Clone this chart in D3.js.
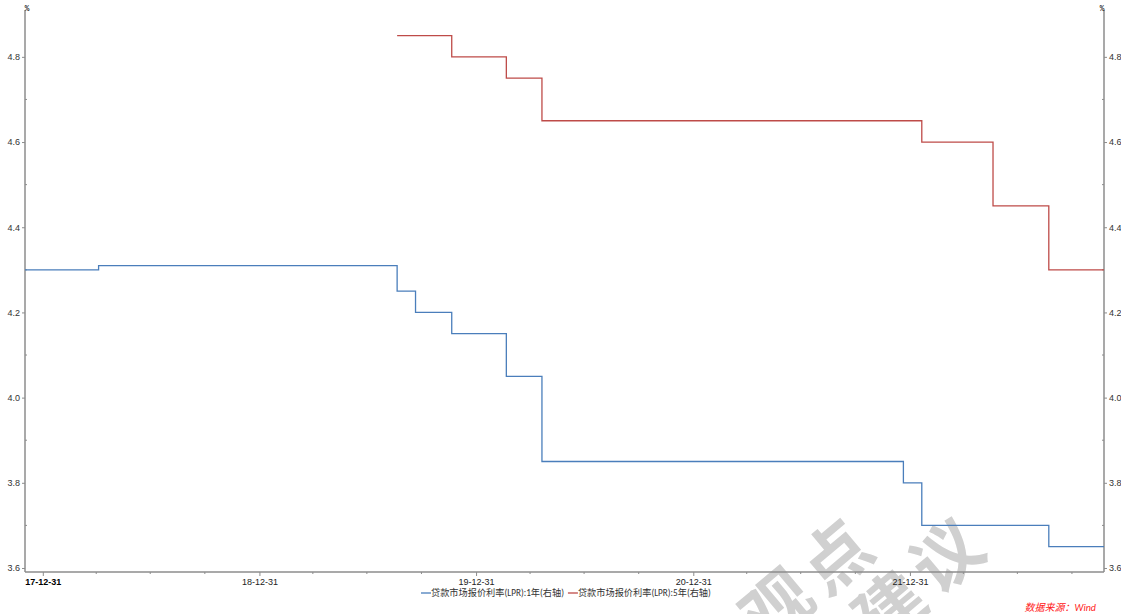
<!DOCTYPE html>
<html><head><meta charset="utf-8">
<script src="https://cdn.jsdelivr.net/npm/d3@7"></script>
<style>
html,body{margin:0;padding:0;background:#fff;}
svg{display:block;font-family:Calibri,"Liberation Sans","Noto Sans CJK SC",sans-serif;}
</style></head>
<body>
<svg id="c" width="1121" height="614"></svg>
<script>
// ---- data ----
const seriesNames = ["贷款市场报价利率(LPR):1年(右轴)", "贷款市场报价利率(LPR):5年(右轴)"];
const lpr1yDates = ["2017-12-01","2018-04-04","2019-08-20","2019-09-20","2019-11-20","2020-02-20","2020-04-20","2021-12-20","2022-01-20","2022-08-22","2022-11-23"];
const lpr1yValues = [4.30, 4.31, 4.25, 4.20, 4.15, 4.05, 3.85, 3.80, 3.70, 3.65, 3.65];
const lpr5yDates = ["2019-08-20","2019-11-20","2020-02-20","2020-04-20","2022-01-20","2022-05-20","2022-08-22","2022-11-23"];
const lpr5yValues = [4.85, 4.80, 4.75, 4.65, 4.60, 4.45, 4.30, 4.30];
const xTickLabels = ["17-12-31","18-12-31","19-12-31","20-12-31","21-12-31"];
const yTickValues = [3.6, 3.8, 4.0, 4.2, 4.4, 4.6, 4.8];
const watermarkChars = ["观","点","建","议"];
const colors = ["#4a7ebb", "#be4b48"];

const parse = d3.timeParse("%Y-%m-%d");
const parseTick = d3.timeParse("%y-%m-%d");
const s1 = lpr1yDates.map((d,i)=>({date:parse(d), v:lpr1yValues[i]}));
const s5 = lpr5yDates.map((d,i)=>({date:parse(d), v:lpr5yValues[i]}));

const svg = d3.select("#c");
const L = 25, R = 1104, T = 10, B = 572;
const x = d3.scaleTime().domain([parse("2017-12-01"), parse("2022-11-23")]).range([L, R]);
const y = d3.scaleLinear().domain([3.5906, 4.910]).range([B, T]);

// watermark (behind everything)
const wmPos = [[777,606],[836,557],[890,608],[947,556]];
svg.append("g").selectAll("text").data(watermarkChars).join("text")
  .attr("transform",(d,i)=>`translate(${wmPos[i][0]},${wmPos[i][1]}) rotate(-40)`)
  .attr("text-anchor","middle").attr("dy","0.36em").text(d=>d)
  .attr("fill","#d0d0d0").style("font-size","68px").style("font-weight","700")
  .style("font-family","'Noto Sans CJK SC',sans-serif");

const axisColor = "#8c8c8c";
const tickFont = 9;

const yL = svg.append("g").attr("transform",`translate(${L},0)`)
  .call(d3.axisLeft(y).tickValues(yTickValues).tickFormat(d3.format(".1f")).tickSize(3).tickPadding(2));
const yR = svg.append("g").attr("transform",`translate(${R},0)`)
  .call(d3.axisRight(y).tickValues(yTickValues).tickFormat(d3.format(".1f")).tickSize(3).tickPadding(2));
[yL,yR].forEach(g=>{
  g.select(".domain").remove();
  g.selectAll(".tick line").attr("stroke",axisColor);
  g.selectAll(".tick text").attr("fill","#333").style("font-size",tickFont+"px");
});
const minorY = [3.7,3.9,4.1,4.3,4.5,4.7];
svg.append("g").selectAll("line").data(minorY).join("line")
  .attr("x1",L).attr("x2",L+2).attr("y1",d=>y(d)).attr("y2",d=>y(d)).attr("stroke",axisColor);
svg.append("g").selectAll("line").data(minorY).join("line")
  .attr("x1",R).attr("x2",R-2).attr("y1",d=>y(d)).attr("y2",d=>y(d)).attr("stroke",axisColor);

const xTicks = xTickLabels.map(parseTick);
const xg = svg.append("g").attr("transform",`translate(0,${B})`)
  .call(d3.axisBottom(x).tickValues(xTicks).tickFormat(d3.timeFormat("%y-%m-%d")).tickSize(4).tickPadding(3));
xg.select(".domain").remove();
xg.selectAll(".tick line").attr("stroke",axisColor);
xg.selectAll(".tick text").attr("fill","#222").style("font-size",tickFont+"px");
xg.selectAll(".tick text").filter((d,i)=>i===0).attr("fill","#000").style("font-weight","bold");
const minorX = d3.timeMonth.every(3).range(parse("2018-01-01"), parse("2022-11-01")).map(d=>d3.timeDay.offset(d,-1)).filter(d=>d.getMonth()!==11);
svg.append("g").selectAll("line").data(minorX).join("line")
  .attr("x1",d=>x(d)).attr("x2",d=>x(d)).attr("y1",B).attr("y2",B+2).attr("stroke",axisColor);

svg.append("line").attr("x1",L).attr("x2",L).attr("y1",T).attr("y2",B).attr("stroke",axisColor).attr("stroke-width",1.5);
svg.append("line").attr("x1",R).attr("x2",R).attr("y1",T).attr("y2",B).attr("stroke",axisColor).attr("stroke-width",1.5);
svg.append("line").attr("x1",L).attr("x2",R).attr("y1",B).attr("y2",B).attr("stroke",axisColor).attr("stroke-width",1.5);

svg.append("text").attr("x",L+2).attr("y",T+1).text("%").attr("fill","#333").style("font-size","7px").style("font-weight","bold").attr("text-anchor","middle");
svg.append("text").attr("x",R-2).attr("y",T+1).text("%").attr("fill","#333").style("font-size","7px").style("font-weight","bold").attr("text-anchor","middle");

const line = d3.line().x(d=>x(d.date)).y(d=>y(d.v)).curve(d3.curveStepAfter);
svg.append("path").datum(s1).attr("d",line).attr("fill","none").attr("stroke",colors[0]).attr("stroke-width",1.3);
svg.append("path").datum(s5).attr("d",line).attr("fill","none").attr("stroke",colors[1]).attr("stroke-width",1.3);

const lg = svg.append("g").attr("transform","translate(421,593)");
let lx = 0;
seriesNames.forEach((n,i)=>{
  lg.append("line").attr("x1",lx).attr("x2",lx+10).attr("y1",0).attr("y2",0).attr("stroke",colors[i]).attr("stroke-width",1.3);
  const t = lg.append("text").attr("x",lx+10).attr("y",0).attr("dy","0.35em").text(n).attr("fill","#333").style("font-size","9.2px");
  lx += 10 + t.node().getComputedTextLength() + 4;
});

svg.append("text").attr("x",1096).attr("y",611).attr("text-anchor","end").text("数据来源：Wind")
  .attr("fill","#ff2020").style("font-size","10px").style("font-style","italic");
</script>
</body></html>
